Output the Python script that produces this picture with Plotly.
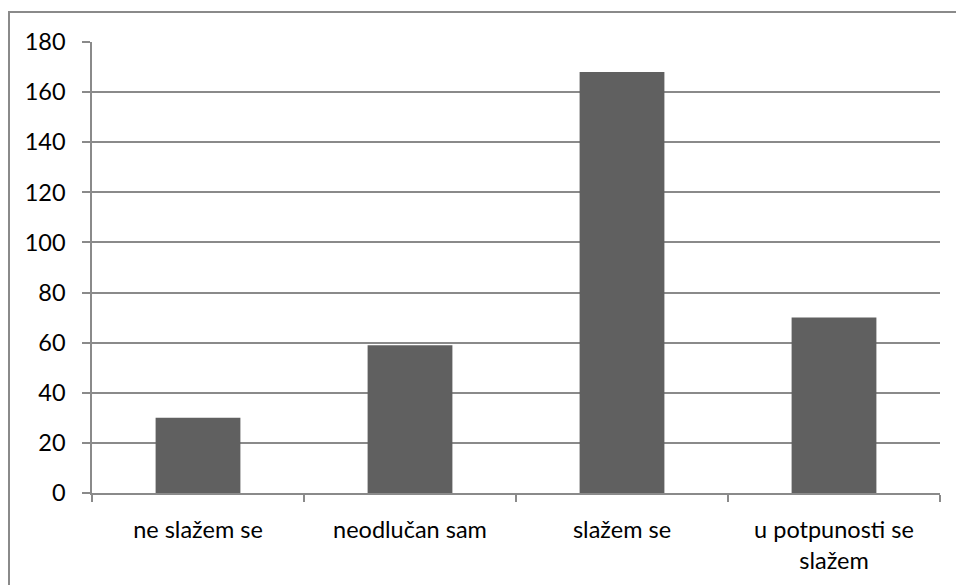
import plotly.graph_objects as go

categories = ["ne slažem se", "neodlučan sam", "slažem se", "u potpunosti se<br>slažem"]
values = [30, 59, 168, 70]
y_ticks = [0, 20, 40, 60, 80, 100, 120, 140, 160, 180]

W, H = 956, 585
L, T = 92, 42
pw, ph = 848, 451
R = W - L - pw
B = H - T - ph

fig = go.Figure(go.Bar(x=categories, y=values, marker=dict(color="#606060", line=dict(width=0)),
                       width=0.4, hoverinfo="skip"))

grid = "#8a8a8a"
fig.update_layout(
    width=W, height=H,
    margin=dict(l=L, r=R, t=T, b=B, pad=0),
    paper_bgcolor="white", plot_bgcolor="white",
    font=dict(family="Lato", size=23.5, color="black"),
    showlegend=False,
    bargap=0.6,
)
fig.update_yaxes(
    range=[0, 180], tickvals=y_ticks, showgrid=True, gridcolor=grid, gridwidth=1.5,
    showline=True, linecolor=grid, linewidth=1.5, ticks="outside", ticklen=8,
    tickcolor=grid, tickwidth=1.5, zeroline=False, ticklabelstandoff=12,
)
fig.update_xaxes(
    showline=True, linecolor=grid, linewidth=1.5, ticks="outside", ticklen=7,
    tickcolor=grid, tickwidth=1.5, tickson="boundaries", showgrid=False,
    range=[-0.5, 3.5], ticklabelstandoff=15,
)
# outer chart border (right and bottom edges fall outside the visible area)
fig.add_shape(type="rect", xref="paper", yref="paper",
              x0=(9 - L) / pw, x1=(W + 20 - L) / pw,
              y0=-(H + 20 - (T + ph)) / ph, y1=(T + ph - 12) / ph,
              line=dict(color="#8a8a8a", width=2), fillcolor="rgba(0,0,0,0)", layer="below")

fig.write_html("out.html", config={"displayModeBar": False},
               post_script="document.body.style.margin='0';document.body.style.overflow='hidden';")
